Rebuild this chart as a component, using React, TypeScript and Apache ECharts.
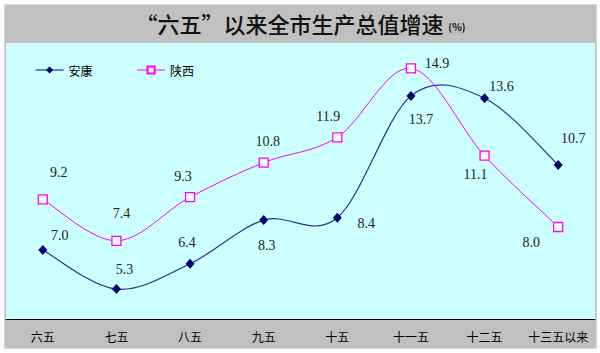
import React, { useEffect, useRef } from "react";
import * as echarts from "echarts";

const categories = ["六五", "七五", "八五", "九五", "十五", "十一五", "十二五", "十三五以来"];
const ankang = [7.0, 5.3, 6.4, 8.3, 8.4, 13.7, 13.6, 10.7];
const shaanxi = [9.2, 7.4, 9.3, 10.8, 11.9, 14.9, 11.1, 8.0];
const seriesNames = ["安康", "陕西"];

// label offsets (style only)
const ankangLabelOffsets = [[17, -15], [8, -20], [-3, -21], [3, 25], [29, 6], [10, 24], [17, -12], [15, -26]];
const shaanxiLabelOffsets = [[16, -27], [5, -27], [-7, -21], [4, -21], [-9, -21], [26, -5], [-9, 19], [-27, 15]];

const ankangLine = { color: "#2a3386", width: 1.2 };
const shaanxiLine = { color: "#ff00ff", width: 1 };

const labelFont = {
  fontFamily: "Liberation Serif",
  fontSize: 14,
  color: "#222",
};

// Excel-like smoothed curve segment between point i and i+1 (Catmull-Rom)
function curveSeries(name: string, values: number[], lineStyle: any) {
  return {
    name,
    type: "custom",
    z: 1,
    silent: true,
    data: values.slice(0, values.length - 1).map((v, i) => [i, v]),
    renderItem: (params: any, api: any) => {
      const i = params.dataIndex;
      const p = (j: number) => {
        const k = Math.max(0, Math.min(values.length - 1, j));
        return api.coord([k, values[k]]);
      };
      const p0 = p(i - 1), p1 = p(i), p2 = p(i + 1), p3 = p(i + 2);
      const t = 1 / 6;
      return {
        type: "bezierCurve",
        shape: {
          x1: p1[0], y1: p1[1],
          x2: p2[0], y2: p2[1],
          cpx1: p1[0] + (p2[0] - p0[0]) * t,
          cpy1: p1[1] + (p2[1] - p0[1]) * t,
          cpx2: p2[0] - (p3[0] - p1[0]) * t,
          cpy2: p2[1] - (p3[1] - p1[1]) * t,
        },
        style: { fill: "none", stroke: lineStyle.color, lineWidth: lineStyle.width },
      };
    },
  };
}

export default function App() {
  const ref = useRef<HTMLDivElement>(null);
  useEffect(() => {
    if (!ref.current) return;
    const chart = echarts.init(ref.current, null, { renderer: "svg" });
    chart.setOption({
      animation: false,
      backgroundColor: "#c0c0c0",
      title: {
        text: "“六五”以来全市生产总值增速 {s|(%)}",
        left: "center",
        top: 2,
        textStyle: {
          fontFamily: "Noto Sans CJK SC",
          fontSize: 22,
          fontWeight: 500,
          color: "#111",
          rich: {
            s: { fontSize: 10, fontWeight: "bold", color: "#111", fontFamily: "Noto Sans CJK SC", padding: [6, 0, 0, 0] },
          },
        },
      },
      legend: {
        left: 25,
        top: 54,
        itemWidth: 28,
        itemHeight: 9,
        itemGap: 44,
        textStyle: { fontFamily: "Noto Sans CJK SC", fontSize: 12, color: "#000" },
        data: [
          { name: seriesNames[0], lineStyle: { ...ankangLine, opacity: 1 } },
          { name: seriesNames[1], lineStyle: { ...shaanxiLine, opacity: 1 } },
        ],
      },
      grid: {
        left: 1,
        right: 1,
        top: 38,
        bottom: 29,
        show: true,
        backgroundColor: "#ccffff",
        borderWidth: 0,
      },
      xAxis: {
        type: "category",
        data: categories,
        boundaryGap: true,
        axisLine: { lineStyle: { color: "#000", width: 1 } },
        axisTick: { inside: true, length: 3, interval: 0, lineStyle: { color: "#000" } },
        axisLabel: { color: "#000", fontSize: 12, margin: 11, interval: 0, fontFamily: "Noto Sans CJK SC" },
      },
      yAxis: {
        type: "value",
        min: 4,
        max: 16,
        show: false,
        splitLine: { show: false },
      },
      series: [
        curveSeries("安康曲线", ankang, ankangLine),
        curveSeries("陕西曲线", shaanxi, shaanxiLine),
        {
          name: seriesNames[0],
          type: "line",
          z: 3,
          symbol: "diamond",
          symbolSize: [9, 10],
          itemStyle: { color: "#000070" },
          lineStyle: { ...ankangLine, opacity: 0 },
          label: { show: true, position: "inside", ...labelFont },
          data: ankang.map((v, i) => ({ value: v, label: { offset: ankangLabelOffsets[i], formatter: v.toFixed(1) } })),
        },
        {
          name: seriesNames[1],
          type: "line",
          z: 3,
          symbol: "rect",
          symbolSize: 9,
          itemStyle: { color: "#ffffff", borderColor: "#ff00ff", borderWidth: 1.3 },
          lineStyle: { ...shaanxiLine, opacity: 0 },
          label: { show: true, position: "inside", ...labelFont },
          data: shaanxi.map((v, i) => ({ value: v, label: { offset: shaanxiLabelOffsets[i], formatter: v.toFixed(1) } })),
        },
      ],
    });
    return () => chart.dispose();
  }, []);
  return (
    <div style={{ position: "fixed", left: 0, top: 0, width: 600, height: 353, background: "#fff" }}>
      <div
        ref={ref}
        style={{ position: "absolute", left: 5, top: 5, width: 591, height: 343, boxShadow: "0 0 0 1px #d8d8d8" }}
      />
    </div>
  );
}
